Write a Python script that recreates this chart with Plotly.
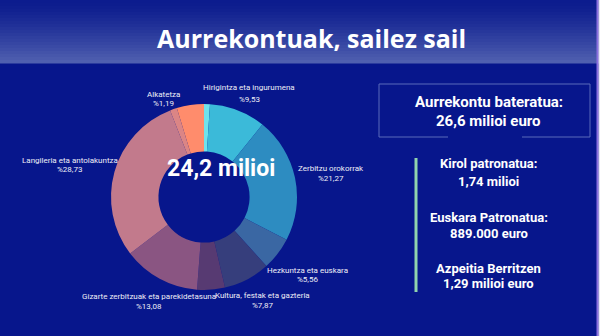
import plotly.graph_objects as go

W, H = 600, 336

# ---- data ----
slice_names = ["Beste (1)", "Hirigintza eta ingurumena", "Zerbitzu orokorrak",
               "Hezkuntza eta euskara", "Kultura, festak eta gazteria", "Beste (2)",
               "Gizarte zerbitzuak eta parekidetasuna", "Langileria eta antolakuntza",
               "Alkatetza", "Beste (3)"]
slice_values = [1.0, 9.53, 21.27, 5.56, 7.87, 4.7, 13.08, 28.73, 1.19, 4.6]
slice_colors = ["#6FE3EC", "#3BBAD9", "#2D8CC1", "#3A67A3", "#363E7C", "#573A72",
                "#8A5582", "#C27A8C", "#DB8585", "#FF8C6C"]
label_texts = ["Hirigintza eta ingurumena", "Zerbitzu orokorrak", "Hezkuntza eta euskara",
               "Kultura, festak eta gazteria", "Gizarte zerbitzuak eta parekidetasuna",
               "Langileria eta antolakuntza", "Alkatetza"]
label_pcts = ["%9,53", "%21,27", "%5,56", "%7,87", "%13,08", "%28,73", "%1,19"]
center_text = "24,2 milioi"
title_text = "Aurrekontuak, sailez sail"
box_lines = ["Aurrekontu bateratua:", "26,6 milioi euro"]
side_lines = ["Kirol patronatua:", "1,74 milioi", "Euskara Patronatua:", "889.000 euro",
              "Azpeitia Berritzen", "1,29 milioi euro"]

# ---- layout helpers (pixel -> paper) ----
def px(x):
    return x / W

def py(y):
    return 1 - y / H

BODY = "#07168C"
cx, cy, r = 204, 197, 93

fig = go.Figure()
fig.add_trace(go.Pie(
    labels=slice_names, values=slice_values, hole=0.49, sort=False,
    direction="clockwise", rotation=0,
    marker=dict(colors=slice_colors, line=dict(width=0)),
    textinfo="none", hoverinfo="label+percent",
    domain=dict(x=[px(cx - r), px(cx + r)], y=[py(cy + r), py(cy - r)]),
))

shapes = []
# header gradient
top = (12, 28, 142)
bot = (80, 96, 176)
n = 21
hh = 63
for i in range(n):
    t = i / (n - 1)
    t = t ** 1.3
    c = tuple(int(top[k] + (bot[k] - top[k]) * t) for k in range(3))
    y0 = hh * i / n
    y1 = hh * (i + 1) / n + 0.5
    shapes.append(dict(type="rect", xref="paper", yref="paper", x0=0, x1=1,
                       y0=py(y1), y1=py(y0), line=dict(width=0),
                       fillcolor="rgb(%d,%d,%d)" % c, layer="below"))
# right border
shapes.append(dict(type="line", xref="paper", yref="paper", x0=px(597.5), x1=px(597.5),
                   y0=0, y1=1, line=dict(color="#8C70E0", width=2)))
shapes.append(dict(type="rect", xref="paper", yref="paper", x0=px(598.5), x1=1,
                   y0=0, y1=1, line=dict(width=0), fillcolor="#E8E4F8"))
# box
bc = "#5A6ABA"
shapes.append(dict(type="line", xref="paper", yref="paper", x0=px(379), x1=px(590),
                   y0=py(84), y1=py(84), line=dict(color=bc, width=1)))
shapes.append(dict(type="line", xref="paper", yref="paper", x0=px(379), x1=px(379),
                   y0=py(84), y1=py(137), line=dict(color=bc, width=1)))
shapes.append(dict(type="line", xref="paper", yref="paper", x0=px(590), x1=px(590),
                   y0=py(84), y1=py(137), line=dict(color=bc, width=1)))
shapes.append(dict(type="line", xref="paper", yref="paper", x0=px(379), x1=px(448),
                   y0=py(137), y1=py(137), line=dict(color=bc, width=1)))
shapes.append(dict(type="line", xref="paper", yref="paper", x0=px(522), x1=px(590),
                   y0=py(137), y1=py(137), line=dict(color=bc, width=1)))
# green line
shapes.append(dict(type="line", xref="paper", yref="paper", x0=px(416), x1=px(416),
                   y0=py(158), y1=py(292), line=dict(color="#90D4AE", width=3)))

ann = []
def text(x, y, s, size, bold=True, color="white", family="Roboto"):
    ann.append(dict(x=px(x), y=py(y), xref="paper", yref="paper", text=("<b>%s</b>" % s) if bold else s,
                    showarrow=False, xanchor="center", yanchor="middle",
                    font=dict(size=size, color=color, family=family)))

text(311, 38, title_text, 25, family="Open Sans")
text(221, 168, center_text, 23)

# slice labels
lab_pos = [(249, 88, 99), (331, 168, 178), (307.5, 270, 279.5), (262, 295, 305),
           (148.5, 296, 306), (69.5, 160, 169), (163, 94, 103)]
for (x, y1, y2), s, p in zip(lab_pos, label_texts, label_pcts):
    text(x, y1, s, 8, bold=False, color="#EEEEF6")
    text(x, y2, p, 8, bold=False, color="#EEEEF6")

text(489, 102, box_lines[0], 15)
text(489, 121, box_lines[1], 15)
side_y = [163, 181, 217, 233, 268, 283]
for s, y in zip(side_lines, side_y):
    text(489, y, s, 13)

fig.update_layout(width=W, height=H, margin=dict(l=0, r=0, t=0, b=0),
                  paper_bgcolor=BODY, plot_bgcolor=BODY, showlegend=False,
                  shapes=shapes, annotations=ann)
fig.write_html("out.html")
